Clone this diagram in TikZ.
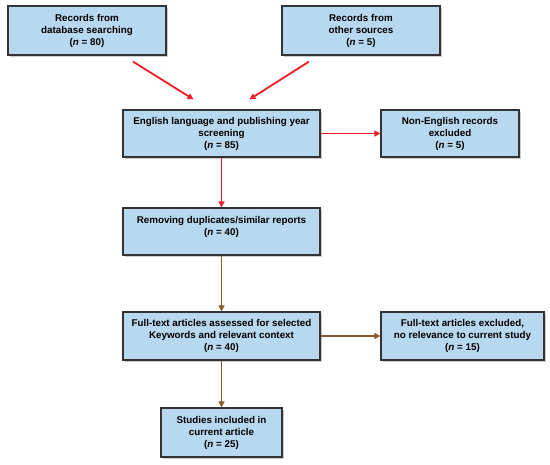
\documentclass[tikz,border=0pt]{standalone}
\usepackage{fontspec}
\setmainfont{Liberation Sans}
\usetikzlibrary{arrows.meta,shadows}
\definecolor{boxfill}{HTML}{B8D8F0}
\definecolor{boxline}{HTML}{333333}
\definecolor{redarr}{HTML}{EE1C25}
\definecolor{brownarr}{HTML}{8B5A2B}
\tikzset{
  pbox/.style={draw=boxline, line width=1.2pt, fill=boxfill, align=center,
    font=\bfseries\fontsize{9.8}{12}\selectfont, inner sep=0pt,
    drop shadow={shadow xshift=1.6pt, shadow yshift=-1.6pt, fill=gray!80}},
  redarrow/.style={draw=redarr, line width=1.8pt, -{Triangle[length=6pt,width=6pt]}},
  brownarrow/.style={draw=brownarr, line width=1.8pt, -{Triangle[length=6pt,width=6pt]}}
}
\begin{document}
\begin{tikzpicture}[x=1pt,y=-1pt]
\useasboundingbox (0,0) rectangle (550,465);
\node[pbox, minimum width=158pt, minimum height=49pt] (b1) at (87,30.5)
  {Records from\\database searching\\(\textit{n} = 80)};
\node[pbox, minimum width=158pt, minimum height=49pt] (b2) at (361,30.5)
  {Records from\\other sources\\(\textit{n} = 5)};
\node[pbox, minimum width=197pt, minimum height=47pt] (b3) at (221.5,133.5)
  {English language and publishing year\\screening\\(\textit{n} = 85)};
\node[pbox, minimum width=138pt, minimum height=47pt] (b4) at (450,133.5)
  {Non-English records\\excluded\\(\textit{n} = 5)};
\node[pbox, minimum width=197pt, minimum height=47pt] (b5) at (221.5,231.5)
  {Removing duplicates/similar reports\\(\textit{n} = 40)\\\mbox{}};
\node[pbox, minimum width=197pt, minimum height=48pt] (b6) at (221.5,336)
  {Full-text articles assessed for selected\\Keywords and relevant context\\(\textit{n} = 40)};
\node[pbox, minimum width=163pt, minimum height=48pt] (b7) at (462.5,336)
  {Full-text articles excluded,\\no relevance to current study\\(\textit{n} = 15)};
\node[pbox, minimum width=121pt, minimum height=49pt] (b8) at (221.5,432.5)
  {Studies included in\\current article\\(\textit{n} = 25)};
\draw[redarrow] ([xshift=46pt,yshift=-6pt]b1.south) -- ([xshift=-28pt,yshift=10pt]b3.north);
\draw[redarrow] ([xshift=-52pt,yshift=-6pt]b2.south) -- ([xshift=28pt,yshift=10pt]b3.north);
\draw[redarrow] (b3.east) -- (b4.west);
\draw[redarrow] (b3.south) -- (b5.north);
\draw[brownarrow] (b5.south) -- (b6.north);
\draw[brownarrow] (b6.east) -- (b7.west);
\draw[brownarrow] (b6.south) -- (b8.north);
\end{tikzpicture}
\end{document}
